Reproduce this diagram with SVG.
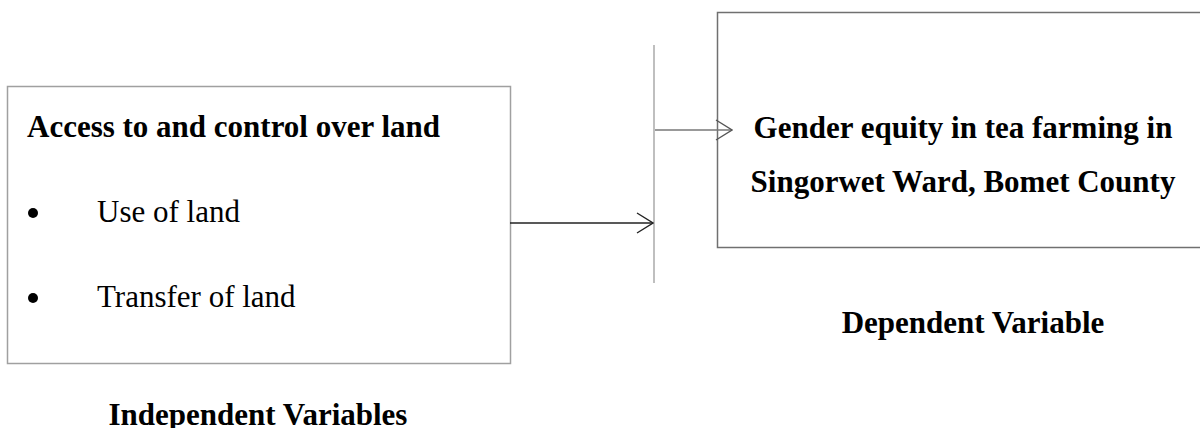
<svg xmlns="http://www.w3.org/2000/svg" width="1200" height="428" viewBox="0 0 1200 428">
<style>
text{font-family:"Liberation Serif","Times New Roman",serif;font-size:31px;fill:#000}
.b{font-weight:bold}
.box{fill:#fff}
</style>
<defs>
<marker id="chev" viewBox="0 0 18 22" refX="17" refY="11" markerWidth="18" markerHeight="22" markerUnits="userSpaceOnUse" orient="auto">
<path d="M1,1 L17,11 L1,21" fill="none" stroke="context-stroke" stroke-width="1.4"/>
</marker>
<marker id="chevK" viewBox="0 0 18 22" refX="17" refY="11" markerWidth="18" markerHeight="22" markerUnits="userSpaceOnUse" orient="auto">
<path d="M1,1 L17,11 L1,21" fill="none" stroke="#222" stroke-width="1.4"/>
</marker>
<marker id="chevG" viewBox="0 0 18 22" refX="17" refY="11" markerWidth="18" markerHeight="22" markerUnits="userSpaceOnUse" orient="auto">
<path d="M1,1 L17,11 L1,21" fill="none" stroke="#555" stroke-width="1.4"/>
</marker>
</defs>
<rect width="1200" height="428" fill="#fff"/>
<g id="independent">
<rect class="box" x="7.5" y="86.5" width="503" height="277" stroke="#a0a0a0" stroke-width="1.5"/>
<text class="b" x="27" y="137">Access to and control over land</text>
<circle cx="33" cy="213" r="5" fill="#000"/>
<text x="97" y="222">Use of land</text>
<circle cx="33" cy="298" r="5" fill="#000"/>
<text x="97" y="307">Transfer of land</text>
</g>
<g id="dependent">
<rect class="box" x="717.5" y="12.5" width="490" height="235" stroke="#707070" stroke-width="1.5"/>
<text class="b" x="963" y="138" text-anchor="middle">Gender equity in tea farming in</text>
<text class="b" x="963" y="192" text-anchor="middle">Singorwet Ward, Bomet County</text>
</g>
<g id="labels">
<text class="b" x="973" y="333" text-anchor="middle">Dependent Variable</text>
<text class="b" x="258" y="425" text-anchor="middle">Independent Variables</text>
</g>
<g id="connectors">
<line x1="654" y1="45" x2="654" y2="283" stroke="#aaaaaa" stroke-width="1.5"/>
<line x1="510" y1="223" x2="653" y2="223" stroke="#222" stroke-width="1.4" marker-end="url(#chevK)"/>
<line x1="655" y1="130" x2="732" y2="130" stroke="#777" stroke-width="1.4" marker-end="url(#chevG)"/>
</g>
</svg>
